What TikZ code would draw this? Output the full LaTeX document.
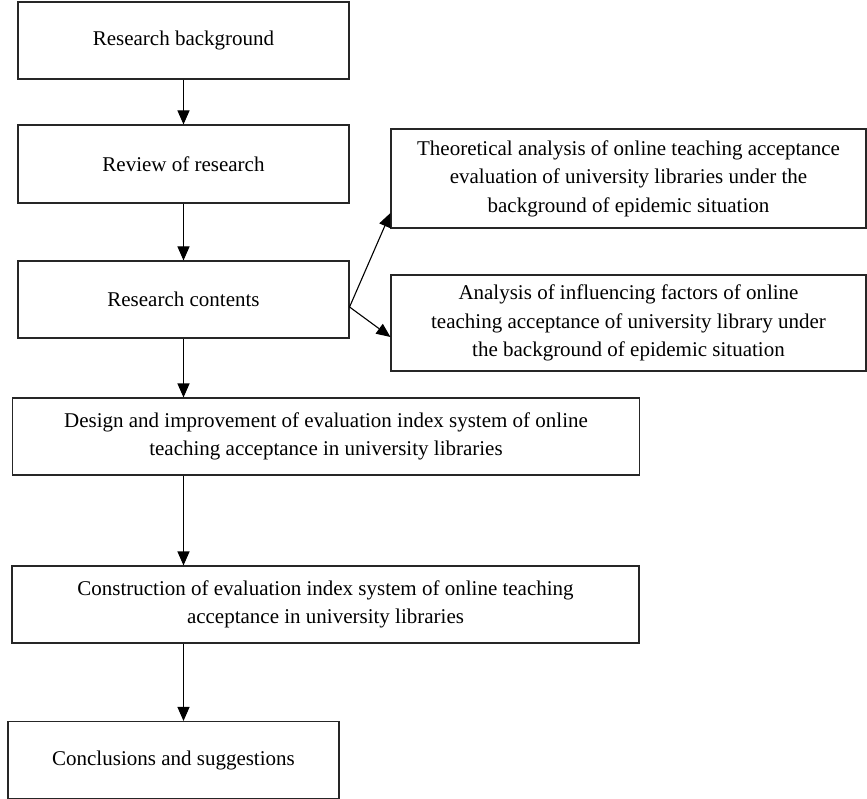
\documentclass[tikz,border=0pt]{standalone}
\usepackage{fontspec}
\setmainfont{Liberation Serif}
\usetikzlibrary{arrows.meta, positioning}

\begin{document}
\begin{tikzpicture}[
        x=1pt, y=-1pt,
        every node/.style={rectangle, draw=black!85, align=center, inner sep=0pt,
          line width=1.1pt, font=\fontsize{21}{28.5}\selectfont},
        box/.style={minimum width=331pt, minimum height=77pt},
        widebox/.style={minimum width=627pt, minimum height=77pt},
        sidebox/.style={minimum width=475pt},
        link/.style={-{Triangle[length=14pt,width=12pt]}, line width=1.1pt}
      ]
      \useasboundingbox (0,0) rectangle (867,799);
      % main column
      \node[box] (bg) at (183.5,40.5) {Research background};
      \node[box, minimum height=78pt] (review) at (183.5,164) {Review of research};
      \node[box] (contents) at (183.5,299.5) {Research contents};
      % side boxes
      \node[sidebox, minimum height=99pt] (theory) at (628.5,178.5)
        {Theoretical analysis of online teaching acceptance\\ evaluation of university libraries under the\\ background of epidemic situation};
      \node[sidebox, minimum height=96pt] (factors) at (628.5,323)
        {Analysis of influencing factors of online\\ teaching acceptance of university library under\\ the background of epidemic situation};
      % lower part
      \node[widebox] (design) at (326,436.5)
        {Design and improvement of evaluation index system of online\\ teaching acceptance in university libraries};
      \node[widebox] (construction) at (325.5,604.5)
        {Construction of evaluation index system of online teaching\\ acceptance in university libraries};
      \node[box] (conclusions) at (173.5,760) {Conclusions and suggestions};
      % connectors
      \draw[link] (bg) -- (review);
      \draw[link] (review) -- (contents);
      \draw[link] ([yshift=-7.5pt]contents.east) -- ([yshift=-34.5pt]theory.west);
      \draw[link] ([yshift=-7.5pt]contents.east) -- ([yshift=-14pt]factors.west);
      \draw[link] (contents.south) -- (contents.south |- design.north);
      \draw[link] (design.south -| bg.south) -- (construction.north -| bg.south);
      \draw[link] (construction.south -| bg.south) -- (conclusions.north -| bg.south);
    \end{tikzpicture}
\end{document}
